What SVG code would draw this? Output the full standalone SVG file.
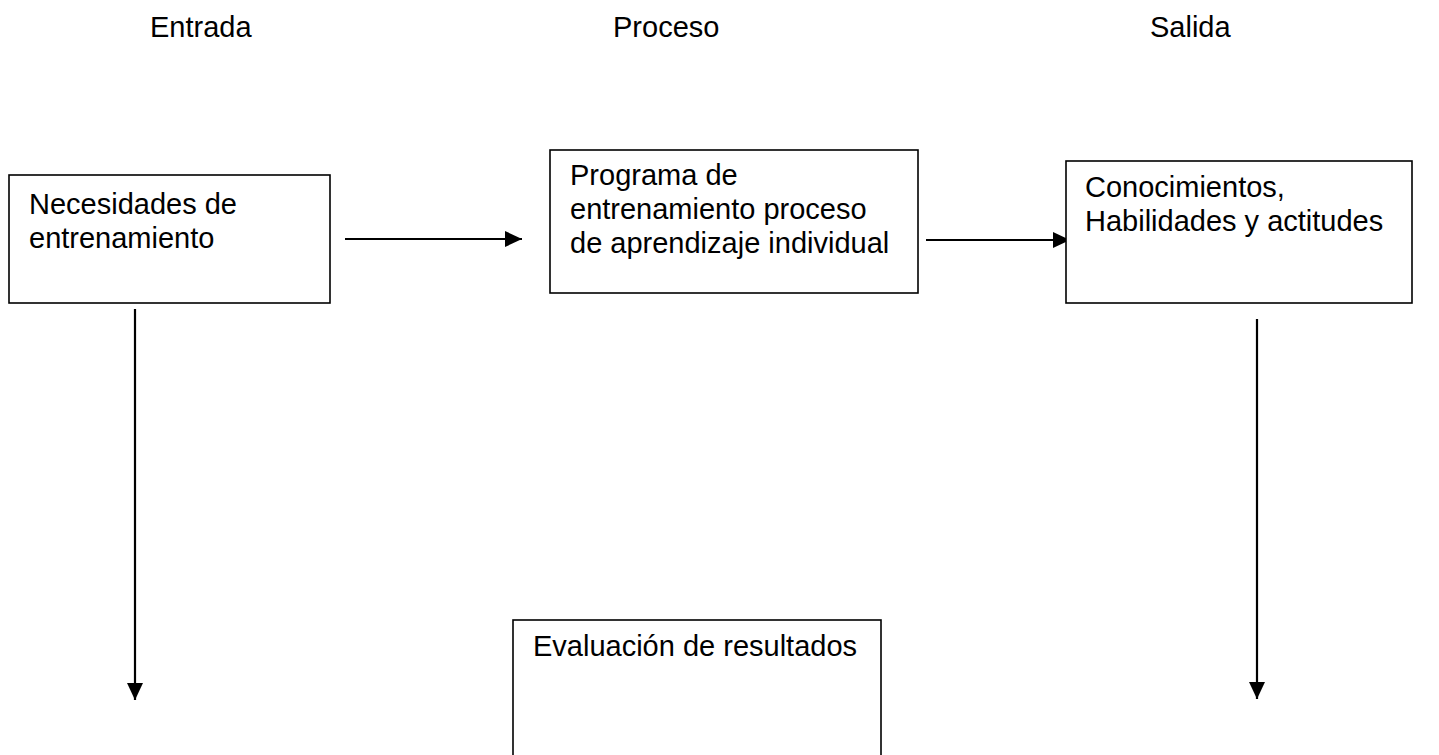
<svg xmlns="http://www.w3.org/2000/svg" width="1439" height="755" viewBox="0 0 1439 755">
<style>
  text { font-family: "Liberation Sans", Arial, sans-serif; font-size: 29px; fill: #000; }
  .box { fill: #fff; stroke: #000; stroke-width: 1.6; }
  .conn { stroke: #000; stroke-width: 2.2; fill: none; marker-end: url(#arrow); }
</style>
<defs>
  <marker id="arrow" markerUnits="userSpaceOnUse" markerWidth="18" markerHeight="16" refX="17" refY="8" orient="auto">
    <path d="M0,0 L17,8 L0,16 Z" fill="#000"/>
  </marker>
</defs>
<rect width="1439" height="755" fill="#fff"/>
<g id="headers">
  <text x="150" y="37">Entrada</text>
  <text x="613" y="37">Proceso</text>
  <text x="1150" y="37">Salida</text>
</g>
<g id="connectors">
  <line class="conn" x1="345" y1="239" x2="522" y2="239"/>
  <line class="conn" x1="926" y1="240" x2="1070" y2="240"/>
  <line class="conn" x1="135" y1="309" x2="135" y2="700"/>
  <line class="conn" x1="1257" y1="319" x2="1257" y2="699"/>
</g>
<g id="node-necesidades">
  <rect class="box" x="9" y="175" width="321" height="128"/>
  <text x="29" y="214">Necesidades de</text>
  <text x="29" y="248">entrenamiento</text>
</g>
<g id="node-programa">
  <rect class="box" x="550" y="150" width="368" height="143"/>
  <text x="570" y="185">Programa de</text>
  <text x="570" y="219">entrenamiento proceso</text>
  <text x="570" y="253">de aprendizaje individual</text>
</g>
<g id="node-conocimientos">
  <rect class="box" x="1066" y="161" width="346" height="142"/>
  <text x="1085" y="197">Conocimientos,</text>
  <text x="1085" y="231">Habilidades y actitudes</text>
</g>
<g id="node-evaluacion">
  <rect class="box" x="513" y="620" width="368" height="142"/>
  <text x="533" y="656">Evaluación de resultados</text>
</g>
</svg>
